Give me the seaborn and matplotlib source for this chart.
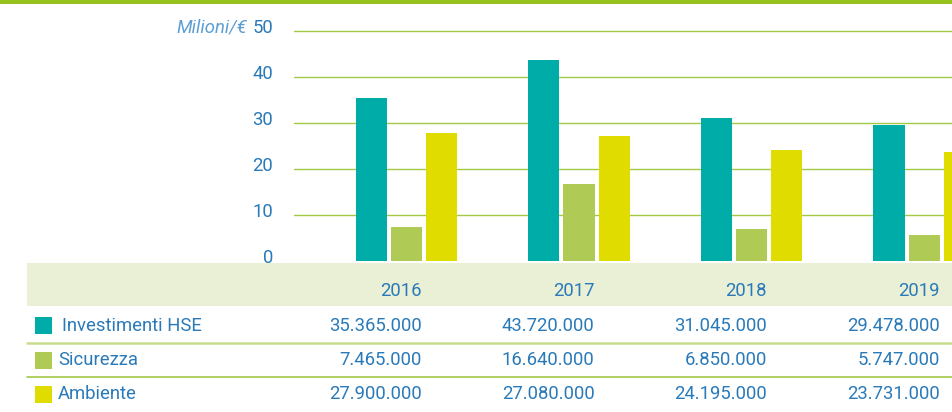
import matplotlib
matplotlib.use('Agg')
import matplotlib.pyplot as plt
import matplotlib.transforms as mtransforms
from matplotlib.patches import Rectangle
from matplotlib.lines import Line2D
import pandas as pd
import seaborn as sns

# data (euro)
years = ['2016', '2017', '2018', '2019']
series = ['Investimenti HSE', 'Sicurezza', 'Ambiente']
investimenti = [35365000, 43720000, 31045000, 29478000]
sicurezza = [7465000, 16640000, 6850000, 5747000]
ambiente = [27900000, 27080000, 24195000, 23731000]
y_ticks = [0, 10, 20, 30, 40, 50]
y_unit = 'Milioni/€'

colors = ['#00aca8', '#afca55', '#e0dc00']
text_blue = '#2a7ab9'
light_blue = '#5d9fd3'
fsize = 13.3

sns.set_style('white')
plt.rcParams['font.family'] = ['Roboto', 'DejaVu Sans']

W, H = 952, 412
fig = plt.figure(figsize=(W / 100, H / 100), dpi=100)


def fx(px):
    return px / W


def fy(py):
    return 1 - py / H


# bar chart
ax = fig.add_axes([fx(294), fy(261), fx(952) - fx(294), fy(0) - fy(261)])
all_values = [investimenti, sicurezza, ambiente]
df = pd.DataFrame({
    'anno': [y for s in series for y in years],
    'serie': [s for s in series for y in years],
    'valore': [v / 1e6 for vals in all_values for v in vals],
})
sns.barplot(data=df, x='anno', y='valore', hue='serie', order=years,
            hue_order=series, palette=colors, saturation=1, width=0.61,
            gap=0.114, linewidth=0, errorbar=None, legend=False, ax=ax)

ax.set_xlim(-0.652, 3.162)
ax.set_ylim(0, 261 / 4.6)
ax.set_yticks(y_ticks)
ax.set_yticklabels([str(t) for t in y_ticks])
ax.set_xticks([])
ax.set_xlabel('')
ax.set_ylabel('')
ax.set_facecolor('none')
for sp in ax.spines.values():
    sp.set_visible(False)
ax.yaxis.grid(True, color='#a3c845', linewidth=1.0)
ax.set_axisbelow(True)
ax.get_ygridlines()[0].set_visible(False)
ax.tick_params(axis='y', length=0, pad=15, labelsize=fsize, labelcolor=text_blue)
up = mtransforms.ScaledTranslation(0, 5 / 100, fig.dpi_scale_trans)
for lab in ax.get_yticklabels():
    lab.set_transform(lab.get_transform() + up)

fig.text(fx(247), fy(27), y_unit, ha='right', va='center', fontsize=fsize,
         style='italic', color=light_blue)

# top green band
fig.add_artist(Rectangle((0, fy(3.5)), 1, 3.5 / H, transform=fig.transFigure,
                         facecolor='#97c11f', edgecolor='none'))

# table header band
fig.add_artist(Rectangle((fx(27), fy(306)), fx(952) - fx(27), fy(263) - fy(306),
                         transform=fig.transFigure, facecolor='#e9f0d5',
                         edgecolor='none', zorder=-1))

trans = mtransforms.blended_transform_factory(ax.transData, fig.transFigure)
col_off = 15.5 / 172.5
for i, yr in enumerate(years):
    fig.text(i + col_off, fy(291), yr, transform=trans, ha='right', va='center',
             fontsize=fsize, color=text_blue)

row_y = [326, 360, 394]
square_top = [317, 352, 386]
label_x = [62, 58, 58]
for r, (name, vals) in enumerate(zip(series, all_values)):
    fig.add_artist(Rectangle((fx(35), fy(square_top[r] + 17)), 17 / W, 17 / H,
                             transform=fig.transFigure, facecolor=colors[r],
                             edgecolor='none'))
    fig.text(fx(label_x[r]), fy(row_y[r]), name, ha='left', va='center',
             fontsize=fsize, color=text_blue)
    for i, v in enumerate(vals):
        fig.text(i + col_off, fy(row_y[r]), f'{v:,}'.replace(',', '.'),
                 transform=trans, ha='right', va='center', fontsize=fsize,
                 color=text_blue)

fig.add_artist(Line2D([fx(27), 1], [fy(343), fy(343)], transform=fig.transFigure,
                      color='#c5dd8c', linewidth=1.8))
fig.add_artist(Line2D([fx(27), 1], [fy(377), fy(377)], transform=fig.transFigure,
                      color='#a3c74b', linewidth=1.2))

fig.savefig('out.png', dpi=100)
